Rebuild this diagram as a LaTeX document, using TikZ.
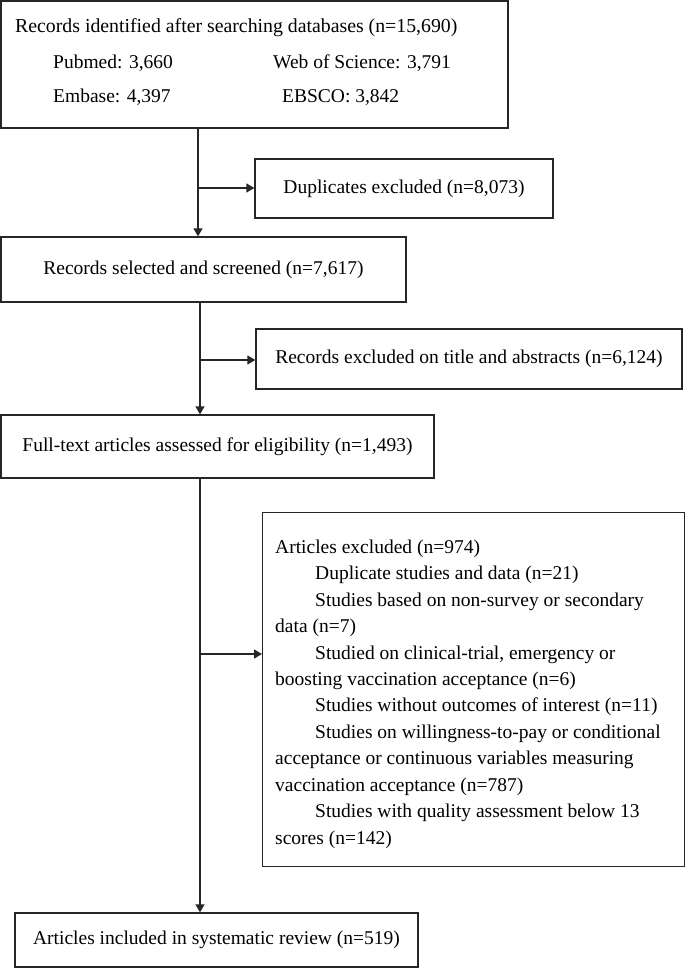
\documentclass[tikz,border=0pt]{standalone}
\usepackage{fontspec}
\setmainfont{Liberation Serif}
\usetikzlibrary{arrows.meta}
\begin{document}
\begin{tikzpicture}[x=1pt,y=-1pt,
  box/.style={draw=black!85,line width=1.3pt,inner sep=0pt,font=\fontsize{19.5}{24}\selectfont},
  txt/.style={inner sep=0pt,font=\fontsize{19.5}{24}\selectfont},
  ln/.style={draw=black!85,line width=1.3pt},
  arr/.style={draw=black!85,line width=1.3pt,-{Triangle[length=8pt,width=9pt]}}]
\useasboundingbox (0,0) rectangle (685,969);
% boxes
\node[box,minimum width=507,minimum height=127] (b1) at (254.5,64.5) {};
\node[txt,anchor=base west,font=\fontsize{19.8}{24}\selectfont] (t1) at (15,32) {Records identified after searching databases (n=15,690)};
\node[txt,anchor=base west] (t2) at (53,68) {Pubmed: 3,660};
\node[txt,anchor=base west] (t3) at (273,68) {Web of Science: 3,791};
\node[txt,anchor=base west] (t4) at (53,102) {Embase: 4,397};
\node[txt,anchor=base west] (t5) at (282,102) {EBSCO: 3,842};
\node[box,minimum width=298,minimum height=59] (dup) at (404,188.5) {Duplicates excluded (n=8,073)};
\node[box,minimum width=405,minimum height=65] (sel) at (203.5,269.5) {Records selected and screened (n=7,617)};
\node[box,minimum width=426,minimum height=60] (rex) at (469,359) {Records excluded on title and abstracts (n=6,124)};
\node[box,minimum width=433,minimum height=63] (full) at (217.5,446.5) {Full-text articles assessed for eligibility (n=1,493)};
\node[box,minimum width=422,minimum height=354,anchor=north west] (ex) at (262,512) {};
\node[txt,align=left,anchor=north west,font=\fontsize{19.5}{26.45}\selectfont] (ext) at (275,539.5) {Articles excluded (n=974)\\
\hspace*{40pt}Duplicate studies and data (n=21)\\
\hspace*{40pt}Studies based on non-survey or secondary\\
data (n=7)\\
\hspace*{40pt}Studied on clinical-trial, emergency or\\
boosting vaccination acceptance (n=6)\\
\hspace*{40pt}Studies without outcomes of interest (n=11)\\
\hspace*{40pt}Studies on willingness-to-pay or conditional\\
acceptance or continuous variables measuring\\
vaccination acceptance (n=787)\\
\hspace*{40pt}Studies with quality assessment below 13\\
scores (n=142)};
\node[box,minimum width=403,minimum height=54] (fin) at (216.5,940) {Articles included in systematic review (n=519)};
% connectors
\coordinate (j1) at (198,188);
\coordinate (j2) at (200,360);
\coordinate (j3) at (200,654);
\draw[ln] (b1.south -| j1) -- (j1);
\draw[arr] (j1) -- (sel.north -| j1);
\draw[arr] (j1) -- (dup.west |- j1);
\draw[ln] (sel.south -| j2) -- (j2);
\draw[arr] (j2) -- (full.north -| j2);
\draw[arr] (j2) -- (rex.west |- j2);
\draw[ln] (full.south -| j3) -- (j3);
\draw[arr] (j3) -- (fin.north -| j3);
\draw[arr] (j3) -- (ex.west |- j3);
\end{tikzpicture}
\end{document}
